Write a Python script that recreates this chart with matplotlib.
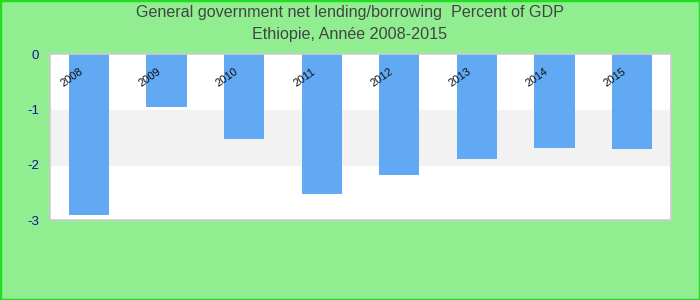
import matplotlib
matplotlib.use("Agg")
import matplotlib.pyplot as plt
from matplotlib.patches import Rectangle

years = ["2008", "2009", "2010", "2011", "2012", "2013", "2014", "2015"]
values = [-2.90, -0.95, -1.53, -2.53, -2.18, -1.89, -1.69, -1.71]
yticks = [0, -1, -2, -3]
title1 = "General government net lending/borrowing  Percent of GDP"
title2 = "Ethiopie, Année 2008-2015"

plt.rcParams['font.family'] = ['Liberation Sans', 'DejaVu Sans']

fig = plt.figure(figsize=(7, 3), dpi=100, facecolor='#90EE90')
fig.patches.append(Rectangle((0, 0), 1, 1, transform=fig.transFigure,
                             fill=False, edgecolor='#22DD22', linewidth=2.5))
ax = fig.add_axes([50.3/700, 1 - 220.3/300, (670.7-50.3)/700, (220.3-54.3)/300])
ax.set_facecolor('white')
ax.axhspan(-2, -1, color='#F2F2F2', zorder=0)

x = list(range(len(years)))
ax.bar(x, values, width=0.52, color='#62A9F4', zorder=2)
ax.set_xlim(-0.5, len(years) - 0.5)
ax.set_ylim(-3, 0)
ax.set_yticks(yticks)
ax.set_yticklabels([str(t) for t in yticks], color='#12129A', fontsize=9.5)
ax.tick_params(axis='y', length=0, pad=8)
ax.set_xticks([])
for s in ax.spines.values():
    s.set_color('#CCCCCC')
    s.set_linewidth(1.2)

for i, y in enumerate(years):
    ax.text(i - 0.22, -0.42, y, rotation=35, ha='center', va='center',
            fontsize=8, color='#111111', zorder=3)

fig.text(0.5, 1 - 13/300, title1, ha='center', va='center', fontsize=11.6, color='#444444')
fig.text(0.5, 1 - 35/300, title2, ha='center', va='center', fontsize=11.6, color='#444444')

fig.savefig('out.png', dpi=100, facecolor=fig.get_facecolor())
